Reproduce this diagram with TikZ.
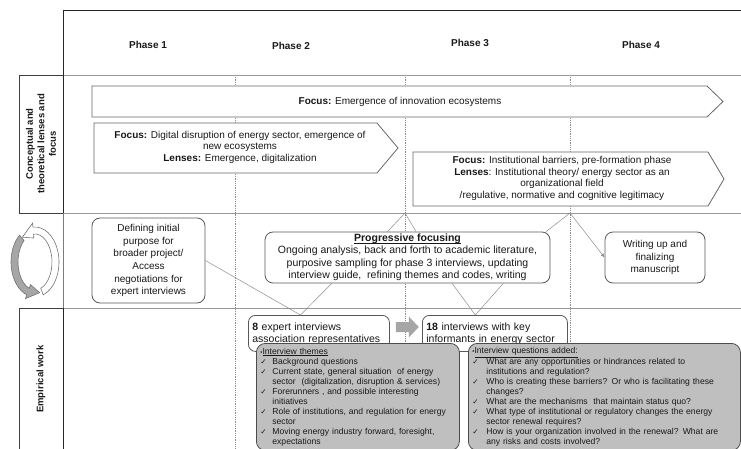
\documentclass[tikz,border=0pt]{standalone}
\usepackage{fontspec}
\setmainfont{Liberation Sans}
\newfontfamily\dejavu{DejaVu Sans}
\usetikzlibrary{calc,arrows.meta}
\newcommand{\ckA}{\makebox[12pt][l]{\dejavu\fontsize{7.5}{10}\selectfont ✓}}
\newcommand{\ckB}{\makebox[14pt][l]{\dejavu\fontsize{7.5}{10}\selectfont ✓}}
\newcommand{\smbul}{{\fontsize{6}{10}\selectfont •}}
\newcommand{\myuline}[1]{{\setbox0\hbox{#1}\rlap{\raisebox{-1.8pt}{\rule{\wd0}{0.7pt}}}\box0}}
\begin{document}
\begin{tikzpicture}[x=1pt,y=-1pt,
 frame/.style={draw=black!85, line width=0.8pt},
 hline/.style={draw=black!40, line width=0.7pt},
 dotv/.style={draw=black!45, line width=0.5pt, dash pattern=on 0.8pt off 1pt},
 lbox/.style={draw=black!75, line width=0.7pt},
 fshape/.style={draw=black!60, fill=white, line width=0.8pt},
 rbox/.style={draw=black!65, fill=white, rounded corners=8pt, line width=0.8pt, text=black!90},
 gbox/.style={draw=black!70, fill=black!25, rounded corners=9pt, line width=0.8pt, text=black!90},
 conn/.style={draw=black!45, line width=0.5pt},
 phase/.style={font=\bfseries\fontsize{10}{12}\selectfont, text=black!90},
 rot/.style={rotate=90, font=\bfseries\fontsize{9.5}{11.5}\selectfont, align=center, text=black!90},
 ftext/.style={font=\fontsize{10}{11.5}\selectfont, align=center, text=black!90, inner sep=0pt},
 cyc/.style={draw=black!55, line width=0.6pt},
]
\useasboundingbox (0,0) rectangle (741,449);

% grid
\foreach \x in {235,405,570} \draw[dotv] (\x,75) -- (\x,449);
\draw[hline] (63,75) -- (741,75);
\draw[hline] (63,213) -- (741,213);
\draw[hline] (63,308) -- (741,308);
\draw[lbox] (19,75) rectangle (63,213);
\draw[lbox] (19,308) rectangle (63,452);
\draw[frame] (63,10) -- (741,10);
\draw[frame] (63,10) -- (63,213);
\draw[frame] (63,308) -- (63,449);
\draw[draw={rgb,255:red,90;green,130;blue,180}, line width=0.6pt] (63,213) -- (63,308);

% phases
\node[phase] (p1) at (148,45) {Phase 1};
\node[phase] (p2) at (291,46) {Phase 2};
\node[phase] (p3) at (470,43) {Phase 3};
\node[phase] (p4) at (641,45) {Phase 4};

% row labels
\node[rot] (lab1) at (41,144) {Conceptual and\\theoretical lenses and\\focus};
\node[rot] (lab2) at (41,379) {Empirical work};

% focus arrows
\draw[fshape] (92,86) -- (707,86) -- (723,101.5) -- (707,117) -- (92,117) -- cycle;
\node[ftext] (f1) at (400,101.5) {\textbf{Focus:} Emergence of innovation ecosystems};

\draw[fshape] (94,123) -- (377,123) -- (398,148) -- (377,173) -- (94,173) -- cycle;
\node[ftext] (f2) at (240,147) {\textbf{Focus:} Digital disruption of energy sector, emergence of\\new ecosystems\\\textbf{Lenses:} Emergence, digitalization};

\draw[fshape] (413,152) -- (708,152) -- (724,179) -- (708,206) -- (413,206) -- cycle;
\node[ftext] (f3) at (562,178.5) {\textbf{Focus:} Institutional barriers, pre-formation phase\\\textbf{Lenses}: Institutional theory/ energy sector as an\\organizational field\\/regulative, normative and cognitive legitimacy};

% cycle arrows
\begin{scope}[shift={(35,262)}]
\draw[cyc, fill=white] (70:24 and 35) arc[start angle=70, end angle=-95, x radius=24, y radius=35]
  -- (-95:28 and 39) -- (-128:20.5 and 31.5) -- (-95:13 and 24) -- (-95:17 and 28)
  arc[start angle=-95, end angle=70, x radius=17, y radius=28] -- cycle;
\draw[cyc, fill=black!35] (-130:24 and 35) arc[start angle=-130, end angle=-250, x radius=24, y radius=35]
  -- (-250:28 and 39) -- (-283:20.5 and 31.5) -- (-250:13 and 24) -- (-250:17 and 28)
  arc[start angle=-250, end angle=-130, x radius=17, y radius=28] -- cycle;
\end{scope}

% process boxes
\node[rbox, minimum width=113pt, minimum height=85pt, align=center, inner sep=2pt,
  font=\fontsize{10}{12.7}\selectfont] (def) at (148.5,260.5)
  {Defining initial\\purpose for\\broader project/\\Access\\negotiations for\\expert interviews};
\node[rbox, minimum width=285pt, minimum height=51pt, align=center, inner sep=1pt,
  font=\fontsize{10.5}{12.5}\selectfont] (prog) at (407.5,257.5)
  {\myuline{\textbf{Progressive focusing}}\\Ongoing analysis, back and forth to academic literature,\\purposive sampling for phase 3 interviews, updating\\interview guide,\ \ refining themes and codes, writing};
\node[rbox, minimum width=100pt, minimum height=51pt, align=center, inner sep=2pt,
  font=\fontsize{10}{12.5}\selectfont] (write) at (655,257.5)
  {Writing up and\\finalizing\\manuscript};

\node[rbox, anchor=north west, text width=133pt, align=left, inner sep=4pt, minimum height=36pt,
  rounded corners=7pt, font=\fontsize{10.5}{12}\selectfont] (exp8) at (248,315)
  {\textbf{8} expert interviews\\association representatives};
\node[rbox, anchor=north west, text width=137pt, align=left, inner sep=4pt, minimum height=36pt,
  rounded corners=7pt, font=\fontsize{10.5}{12}\selectfont] (e18) at (422,315)
  {\textbf{18} interviews with key\\informants in energy sector};

% connectors
\coordinate (J2) at (405,213);
\coordinate (J3) at (570,213);
\draw[conn] ($(prog.north west)!0.43!(prog.north east)$) -- (J2) -- ($(prog.north west)!0.53!(prog.north east)$);
\draw[conn] ($(prog.north west)!0.985!(prog.north east)$) -- (J3);
\draw[conn, -{Latex[length=4pt,width=3.5pt]}] (J3) -- (write.west);
\coordinate (T8) at ($(exp8.north west)!0.37!(exp8.north east)$);
\draw[conn] (def.east) -- (T8) -- ($(prog.south west)!0.235!(prog.south east)$);
\coordinate (T18) at ($(e18.north west)!0.366!(e18.north east)$);
\draw[conn] ($(prog.south west)!0.656!(prog.south east)$) -- (T18) -- ($(prog.south west)!0.835!(prog.south east)$);

% block arrow between interview boxes
\coordinate (ga) at ($(exp8.north east)+(6,12)$);
\fill[black!35] (ga) ++(0,-5) -- ++(13,0) -- ++(0,-5.5) -- ++(10,10.5) -- ++(-10,10.5) -- ++(0,-5.5) -- ++(-13,0) -- cycle;

% detail boxes
\node[gbox, anchor=north west, text width=195pt, minimum height=107pt, align=left, inner sep=4pt,
  font=\fontsize{8.6}{10}\selectfont] (themes) at (256,343)
  {\smbul\underline{Interview themes}\\
   \ckA Background questions\\
   \ckA Current state, general situation\ \ of energy\\
   \hspace*{12pt}sector\ \ (digitalization, disruption \& services)\\
   \ckA Forerunners , and possible interesting\\
   \hspace*{12pt}initiatives\\
   \ckA Role of institutions, and regulation for energy\\
   \hspace*{12pt}sector\\
   \ckA Moving energy industry forward, foresight,\\
   \hspace*{12pt}expectations};
\node[gbox, anchor=north west, text width=264pt, minimum height=107pt, align=left, inner sep=4pt,
  font=\fontsize{8.6}{10}\selectfont] (quest) at (468,343)
  {\smbul\underline{Interview questions added:}\\
   \ckB What are any opportunities or hindrances related to\\
   \hspace*{14pt}institutions and regulation?\\
   \ckB Who is creating these barriers? Or who is facilitating these\\
   \hspace*{14pt}changes?\\
   \ckB What are the mechanisms\ \ that maintain status quo?\\
   \ckB What type of institutional or regulatory changes the energy\\
   \hspace*{14pt}sector renewal requires?\\
   \ckB How is your organization involved in the renewal? What are\\
   \hspace*{14pt}any risks and costs involved?};
\end{tikzpicture}
\end{document}
